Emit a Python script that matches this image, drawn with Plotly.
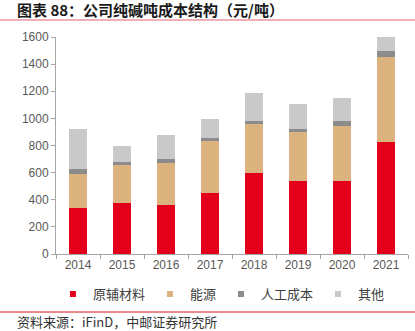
import plotly.graph_objects as go

years = ["2014", "2015", "2016", "2017", "2018", "2019", "2020", "2021"]
raw_material = [336, 373, 363, 449, 594, 540, 540, 827]
energy = [251, 280, 309, 385, 366, 361, 402, 623]
labor = [39, 27, 30, 25, 22, 22, 40, 47]
other = [297, 120, 172, 140, 208, 181, 171, 108]

series_names = ["原辅材料", "能源", "人工成本", "其他"]
series_values = [raw_material, energy, labor, other]
colors = ["#E2001A", "#DBB37F", "#8C8C8C", "#C9C9C9"]

title_text = "图表 88：公司纯碱吨成本结构（元/吨）"
source_text = "资料来源：iFinD，中邮证券研究所"
y_ticks = [0, 200, 400, 600, 800, 1000, 1200, 1400, 1600]

fig = go.Figure()
for name, vals, col in zip(series_names, series_values, colors):
    fig.add_trace(go.Bar(x=years, y=vals, name=name, marker=dict(color=col, line=dict(width=0)),
                         showlegend=False))
for name, col in zip(series_names, colors):
    fig.add_trace(go.Scatter(x=[None], y=[None], mode="markers", name=name,
                             marker=dict(symbol="square", size=6, color=col)))

font_main = "Liberation Sans, Arial, Noto Sans CJK SC, sans-serif"

fig.update_layout(
    barmode="stack",
    bargap=0.59,
    width=415, height=331,
    margin=dict(l=56, r=7, t=37, b=77),
    plot_bgcolor="white", paper_bgcolor="white",
    font=dict(family=font_main, size=12, color="#595959"),
    showlegend=True,
    legend=dict(orientation="h", x=0.47, xanchor="center", y=-0.185, yanchor="middle",
                font=dict(size=13, color="#404040", family="Noto Sans CJK SC"),
                itemwidth=30, tracegroupgap=0, traceorder="normal",
                bgcolor="rgba(0,0,0,0)"),
    xaxis=dict(type="category", showline=True, linecolor="#A6A6A6", linewidth=1,
               ticks="outside", ticklen=4, tickcolor="#A6A6A6", tickson="boundaries",
               tickfont=dict(size=12, color="#595959"), showgrid=False),
    yaxis=dict(range=[0, 1600], tickvals=y_ticks, showline=True, linecolor="#A6A6A6",
               linewidth=1, ticks="outside", ticklen=4, tickcolor="#A6A6A6",
               tickfont=dict(size=12, color="#595959"), showgrid=False, zeroline=False),
)

fig.add_annotation(text="<b>" + title_text + "</b>", xref="paper", yref="paper",
                   x=-41/352, xanchor="left", y=1 + (37-10)/217, yanchor="middle",
                   showarrow=False, font=dict(size=15, color="#1a1a1a", family="Noto Sans CJK SC"))
fig.add_annotation(text=source_text, xref="paper", yref="paper",
                   x=-41/352, xanchor="left", y=-(321-254)/217, yanchor="middle",
                   showarrow=False, font=dict(size=13, color="#333333", family="Noto Sans CJK SC"))

fig.add_shape(type="line", xref="paper", yref="paper", x0=-56/352, x1=1+7/352,
              y0=1 + (37-20)/217, y1=1 + (37-20)/217, line=dict(color="#E8969E", width=1.5))
fig.add_shape(type="line", xref="paper", yref="paper", x0=-56/352, x1=1+7/352,
              y0=-(312-254)/217, y1=-(312-254)/217, line=dict(color="#D7121F", width=1))

fig.write_html("out.html")
